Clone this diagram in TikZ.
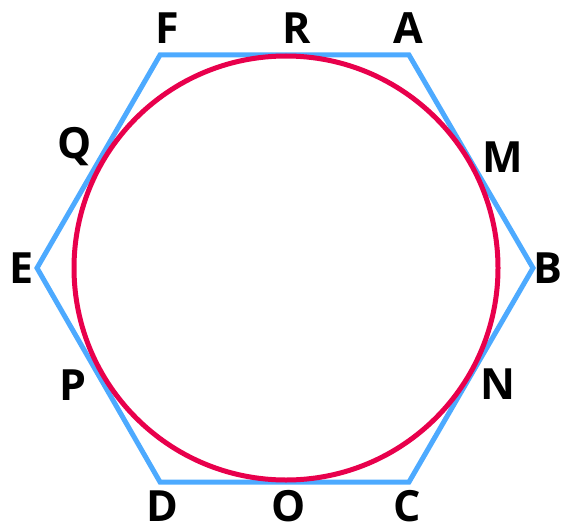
\documentclass[tikz,border=0pt]{standalone}
\usepackage{fontspec}
\setmainfont{Open Sans}
\usepackage{tikz}
\usetikzlibrary{calc}
\definecolor{hexblue}{RGB}{77,170,255}
\definecolor{circred}{RGB}{232,0,76}
\tikzset{
  hexline/.style={draw=hexblue, line width=5pt, line join=miter},
  circline/.style={draw=circred, line width=5pt},
  ptlabel/.style={inner sep=0pt, anchor=center, text height=31pt, text depth=0pt,
    font=\fontsize{43}{43}\selectfont\bfseries}
}
\begin{document}
\begin{tikzpicture}[x=1pt, y=1pt]
  \useasboundingbox (0,0) rectangle (561,531);

  % hexagon corners
  \coordinate (F) at (160,476);
  \coordinate (A) at (409,476);
  \coordinate (B) at (533,263);
  \coordinate (C) at (409,49);
  \coordinate (D) at (160,49);
  \coordinate (E) at (37,263);
  \coordinate (ctr) at (286,263);

  \draw [hexline] (F) -- (A) -- (B) -- (C) -- (D) -- (E) -- cycle;
  \draw [circline] (ctr) circle (212);

  % vertex and touch point labels
  \node [ptlabel] (lF) at (167,503) {F};
  \node [ptlabel] (lR) at (297,503) {R};
  \node [ptlabel] (lA) at (408,503) {A};
  \node [ptlabel] (lQ) at (75,388) {Q};
  \node [ptlabel] (lM) at (503,374) {M};
  \node [ptlabel] (lE) at (22,263) {E};
  \node [ptlabel] (lB) at (548,263) {B};
  \node [ptlabel] (lP) at (73,146) {P};
  \node [ptlabel] (lN) at (498,147) {N};
  \node [ptlabel] (lD) at (162,25) {D};
  \node [ptlabel] (lO) at (289,25) {O};
  \node [ptlabel] (lC) at (407,25) {C};
\end{tikzpicture}
\end{document}
